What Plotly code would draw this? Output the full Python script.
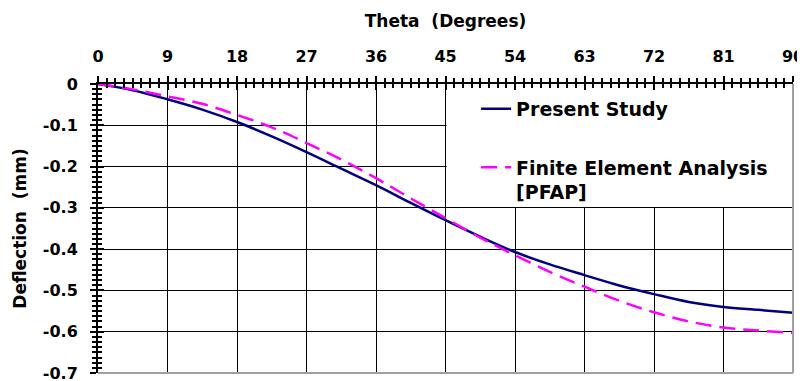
import plotly.graph_objects as go

theta = [0, 4.5, 9, 13.5, 18, 22.5, 27, 31.5, 36, 40.5, 45, 49.5, 54, 58.5, 63, 67.5, 72, 76.5, 81, 85.5, 90]
present_study = [0, -0.015, -0.037, -0.062, -0.092, -0.127, -0.165, -0.205, -0.245, -0.288, -0.330,
                 -0.370, -0.407, -0.437, -0.463, -0.488, -0.509, -0.528, -0.540, -0.547, -0.554]
fea = [0, -0.013, -0.030, -0.048, -0.075, -0.105, -0.143, -0.183, -0.228, -0.277, -0.325,
       -0.372, -0.415, -0.455, -0.491, -0.525, -0.553, -0.575, -0.590, -0.597, -0.603]

x_ticks = [0, 9, 18, 27, 36, 45, 54, 63, 72, 81, 90]
y_ticks = [0, -0.1, -0.2, -0.3, -0.4, -0.5, -0.6, -0.7]
y_labels = ["0", "-0.1", "-0.2", "-0.3", "-0.4", "-0.5", "-0.6", "-0.7"]

FONT = "DejaVu Sans"

fig = go.Figure()
fig.add_trace(go.Scatter(x=theta, y=present_study, mode="lines", name="Present Study",
                         legendgroup="a",
                         line=dict(color="#000080", width=2.5, shape="spline")))
fig.add_trace(go.Scatter(x=theta, y=fea, mode="lines", name="Finite Element Analysis<br>[PFAP]",
                         legendgroup="b",
                         line=dict(color="#ff00ff", width=2.5, dash="16px,8px", shape="spline")))
# empty helper trace so the overlaid axes (inner half of the cross ticks) get drawn
fig.add_trace(go.Scatter(x=[], y=[], xaxis="x2", yaxis="y2", showlegend=False, hoverinfo="skip"))

tickfont = dict(family=FONT, size=16, color="black", weight="bold")

common_x = dict(range=[0, 90], tickvals=x_ticks, side="top", automargin=False)
common_y = dict(range=[-0.7, 0], tickvals=y_ticks, automargin=False)

# the page body has an 8px margin, so the figure is 8px smaller and margins compensate
fig.update_layout(
    width=797, height=373,
    margin=dict(l=90, r=12, t=76, b=8),
    paper_bgcolor="white", plot_bgcolor="white",
    showlegend=True,
    legend=dict(x=0.544, y=0.98, xanchor="left", yanchor="top",
                bgcolor="rgba(0,0,0,0)", borderwidth=0,
                font=dict(family=FONT, size=19, color="black", weight="bold"),
                valign="top", tracegroupgap=31, itemwidth=30),
    xaxis=dict(**common_x, ticks="outside", ticklen=6, tickwidth=2, tickcolor="black",
               showline=True, linecolor="black", linewidth=2,
               showgrid=True, gridcolor="black", gridwidth=1,
               minor=dict(dtick=1.125, ticks="outside", ticklen=4, tickwidth=2, tickcolor="black", showgrid=False),
               tickfont=tickfont, ticktext=[str(v) for v in x_ticks], ticklabelstandoff=8,
               ticklabeloverflow="allow",
               title=dict(text="Theta\u00a0\u00a0(Degrees)", standoff=15,
                          font=dict(family=FONT, size=17, color="black", weight="bold")),
               zeroline=False),
    yaxis=dict(**common_y, ticktext=y_labels, ticks="outside", ticklen=6, tickwidth=2, tickcolor="black",
               showline=True, linecolor="black", linewidth=2,
               showgrid=True, gridcolor="black", gridwidth=1,
               minor=dict(dtick=0.0125, ticks="outside", ticklen=4, tickwidth=2, tickcolor="black", showgrid=False),
               tickfont=tickfont, ticklabelstandoff=9, ticklabeloverflow="allow",
               title=dict(text="Deflection\u00a0\u00a0(mm)", standoff=12,
                          font=dict(family=FONT, size=17, color="black", weight="bold")),
               zeroline=False),
    xaxis2=dict(**common_x, overlaying="x", anchor="y", ticks="inside", ticklen=6, tickwidth=2,
                tickcolor="black", showticklabels=False, showgrid=False, showline=False, zeroline=False,
                minor=dict(dtick=1.125, ticks="inside", ticklen=4, tickwidth=2, tickcolor="black")),
    yaxis2=dict(**common_y, overlaying="y", anchor="x", side="left", ticks="inside", ticklen=6, tickwidth=2,
                tickcolor="black", showticklabels=False, showgrid=False, showline=False, zeroline=False,
                minor=dict(dtick=0.0125, ticks="inside", ticklen=4, tickwidth=2, tickcolor="black")),
    shapes=[
        # white legend panel covering the grid in the upper right (spans 45..90 deg, 0..-0.3 mm)
        dict(type="rect", xref="x", yref="y", x0=x_ticks[5] + 0.15, x1=x_ticks[-1], y0=y_ticks[3] + 0.002,
             y1=y_ticks[0], fillcolor="white", line=dict(width=0), layer="between"),
        # grey bottom and right border of the plot area
        dict(type="line", xref="paper", yref="paper", x0=0, x1=1, y0=0, y1=0,
             line=dict(color="#a0a0a0", width=2), layer="above"),
        dict(type="line", xref="paper", yref="paper", x0=1, x1=1, y0=0, y1=1,
             line=dict(color="#a0a0a0", width=2), layer="above"),
    ],
)

fig.write_html("out.html")
